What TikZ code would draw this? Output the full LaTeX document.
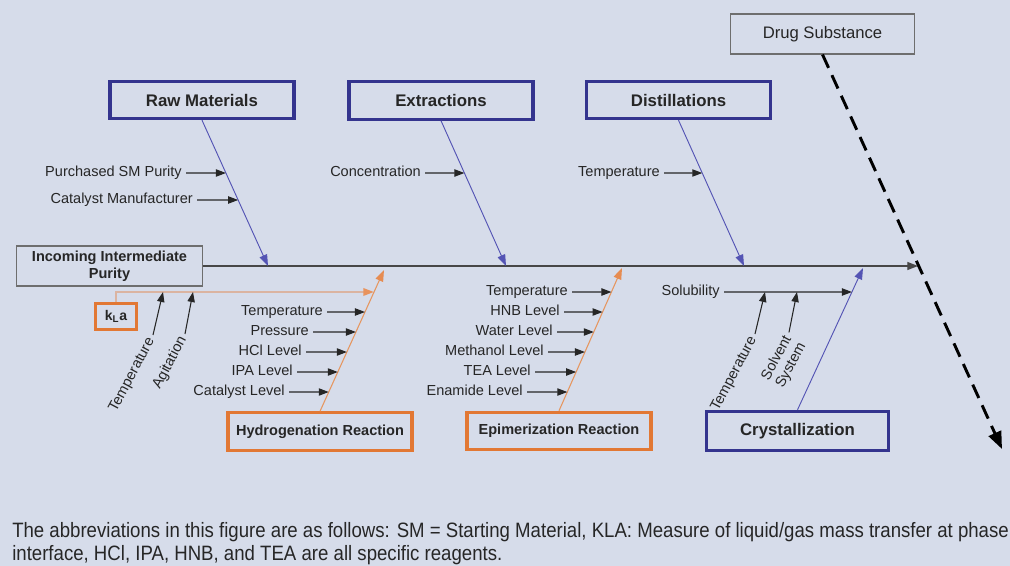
\documentclass[tikz,border=0pt]{standalone}
\usepackage{fontspec}
\setmainfont{Liberation Sans}
\newfontfamily\capfont{Liberation Sans}[FakeStretch=0.895]
\usetikzlibrary{arrows.meta,calc}

\definecolor{bg}{RGB}{214,220,234}
\definecolor{navy}{RGB}{52,52,142}
\definecolor{rust}{RGB}{226,120,52}
\definecolor{ink}{RGB}{38,38,38}
\definecolor{branchblue}{RGB}{84,84,180}
\definecolor{branchorange}{RGB}{230,150,95}
\definecolor{frame}{RGB}{110,110,110}

% arrow from a cause label to the point of its branch at the same height
\newcommand\causearrow[3]{%
  \draw[sub] (#1.east) -- (intersection cs:first line={(#2)--(#3)},
    second line={(#1.east)--([xshift=10pt]#1.east)});}

\begin{document}
\begin{tikzpicture}[x=0.75pt,y=-0.75pt,
  catbox/.style={draw=navy,line width=2.3pt,fill=bg,minimum width=138pt,
    minimum height=28pt,inner sep=0pt,text=ink,
    font=\fontsize{12.6}{14}\selectfont\bfseries},
  rxnbox/.style={draw=rust,line width=2.3pt,fill=bg,minimum width=138pt,
    minimum height=28pt,inner sep=0pt,text=ink,
    font=\fontsize{10.9}{13}\selectfont\bfseries},
  plainbox/.style={draw=frame,line width=0.8pt,fill=bg,inner sep=0pt,text=ink,
    minimum width=139pt,minimum height=30pt},
  lbl/.style={text=ink,font=\fontsize{10.9}{12}\selectfont,inner sep=3pt,
    text height=0.6em,text depth=0pt},
  lbltwo/.style={text=ink,font=\fontsize{10.9}{12}\selectfont,inner sep=3pt,
    align=center},
  sub/.style={draw=ink,line width=0.8pt,-{Triangle[length=7.5pt,width=5.5pt]}},
  spine/.style={draw=ink!85,line width=0.9pt,-{Triangle[length=8pt,width=6pt]}},
  bluebranch/.style={draw=branchblue,line width=0.7pt,
    -{Triangle[length=8.5pt,width=6pt]}},
  orangebranch/.style={draw=branchorange,line width=0.8pt,
    -{Triangle[length=8.5pt,width=6pt,color=rust!85]}},
  klaline/.style={draw=rust!40!bg,line width=1.6pt,
    -{Triangle[length=8pt,width=5.5pt,color=rust!80]}},
  outflow/.style={draw=black,line width=2.2pt,dash pattern=on 11pt off 6pt,
    -{Triangle[length=13pt,width=10pt]}},
  caption/.style={text=ink,inner sep=0pt,
    font=\capfont\fontsize{15.6}{17}\selectfont}
]
\useasboundingbox[fill=bg] (0,0) rectangle (1010,566);

% ---- category boxes ----
\node[catbox] (raw)  at (202,100)   {Raw Materials};
\node[catbox] (ext)  at (441,100.5) {Extractions};
\node[catbox] (dist) at (678.5,100) {Distillations};
\node[rxnbox] (hyd)  at (320,431.5) {Hydrogenation Reaction};
\node[rxnbox] (epi)  at (559,431)   {Epimerization Reaction};
\node[catbox,minimum width=136pt,minimum height=29.5pt] (cry) at (797.5,431) {Crystallization};
\node[plainbox,font=\fontsize{10.9}{13}\selectfont\bfseries,align=center] (inc)
  at (109.5,266) {Incoming Intermediate\\Purity};
\node[plainbox,minimum width=138pt,font=\fontsize{12.5}{14}\selectfont] (drug)
  at (822.5,34) {Drug Substance};
\node[draw=rust,line width=2.3pt,fill=bg,minimum width=31pt,minimum height=20pt,
  inner sep=0pt,text=ink,font=\fontsize{10.5}{12}\selectfont\bfseries] (kla)
  at (116,316.5) {k\textsubscript{L}a};

% ---- branch ends ----
\coordinate (head)   at (918,266);
\coordinate (rawtip) at (268,266);
\coordinate (exttip) at (506,266);
\coordinate (disttip) at (744,266);
\coordinate (hydtip) at (384,270);
\coordinate (epitip) at (622,268);
\coordinate (crytip) at (863,268);
\coordinate (outend) at (1002,449);

% ---- spine and outflow ----
\draw[spine] (inc.east) -- (head);
\draw[outflow] (drug.south) -- (outend);

% ---- branches ----
\draw[bluebranch] (raw.south) -- (rawtip);
\draw[bluebranch] (ext.south) -- (exttip);
\draw[bluebranch] (dist.south) -- (disttip);
\draw[bluebranch] (cry.north) -- (crytip);
\draw[orangebranch] (hyd.north) -- (hydtip);
\draw[orangebranch] (epi.north) -- (epitip);

% ---- raw materials causes ----
\node[lbl,anchor=east] (rm1) at (186,173) {Purchased SM Purity};
\node[lbl,anchor=east] (rm2) at (197,200) {Catalyst Manufacturer};
\causearrow{rm1}{raw.south}{rawtip}
\causearrow{rm2}{raw.south}{rawtip}

% ---- extraction and distillation causes ----
\node[lbl,anchor=east] (ex1) at (425,173) {Concentration};
\causearrow{ex1}{ext.south}{exttip}
\node[lbl,anchor=east] (ds1) at (664,173) {Temperature};
\causearrow{ds1}{dist.south}{disttip}

% ---- hydrogenation causes ----
\node[lbl,anchor=east] (hy1) at (327,312) {Temperature};
\node[lbl,anchor=east] (hy2) at (313,332) {Pressure};
\node[lbl,anchor=east] (hy3) at (306,352) {HCl Level};
\node[lbl,anchor=east] (hy4) at (297,372) {IPA Level};
\node[lbl,anchor=east] (hy5) at (289,392) {Catalyst Level};
\foreach \n in {hy1,hy2,hy3,hy4,hy5}{\causearrow{\n}{hyd.north}{hydtip}}

% ---- kLa sub-branch ----
\coordinate (klatip) at (374,292);
\draw[klaline] (kla.north) |- (klatip);
\coordinate (ka1) at (163,292);
\coordinate (ka2) at (193,292);
\node[lbl,rotate=62,anchor=east] (kt) at (153,335) {Temperature};
\node[lbl,rotate=62,anchor=east] (kg) at (185,334) {Agitation};
\draw[sub] (kt.east) -- (ka1);
\draw[sub] (kg.east) -- (ka2);

% ---- epimerization causes ----
\node[lbl,anchor=east] (ep1) at (572,292) {Temperature};
\node[lbl,anchor=east] (ep2) at (564,312) {HNB Level};
\node[lbl,anchor=east] (ep3) at (557,332) {Water Level};
\node[lbl,anchor=east] (ep4) at (548,352) {Methanol Level};
\node[lbl,anchor=east] (ep5) at (535,372) {TEA Level};
\node[lbl,anchor=east] (ep6) at (527,392) {Enamide Level};
\foreach \n in {ep1,ep2,ep3,ep4,ep5,ep6}{\causearrow{\n}{epi.north}{epitip}}

% ---- crystallization causes ----
\node[lbl,anchor=east] (cr1) at (724,292) {Solubility};
\causearrow{cr1}{cry.north}{crytip}
\coordinate (cs1) at (765,292);
\coordinate (cs2) at (797,292);
\node[lbl,rotate=62,anchor=east] (ct) at (755,334) {Temperature};
\node[lbltwo,rotate=62] (sv) at (784,362) {Solvent\\System};
\draw[sub] ($(sv.east)!0.5!(sv.north east)$) -- (cs2);
\draw[sub] (ct.east) -- (cs1);

% ---- caption ----
\node[caption,anchor=base west] (cap1) at (12,537)
  {The abbreviations in this figure are as follows: SM = Starting Material, KLA: Measure of liquid/gas mass transfer at phase};
\node[caption,anchor=base west] (cap2) at (12,560)
  {interface, HCl, IPA, HNB, and TEA are all specific reagents.};
\end{tikzpicture}
\end{document}
